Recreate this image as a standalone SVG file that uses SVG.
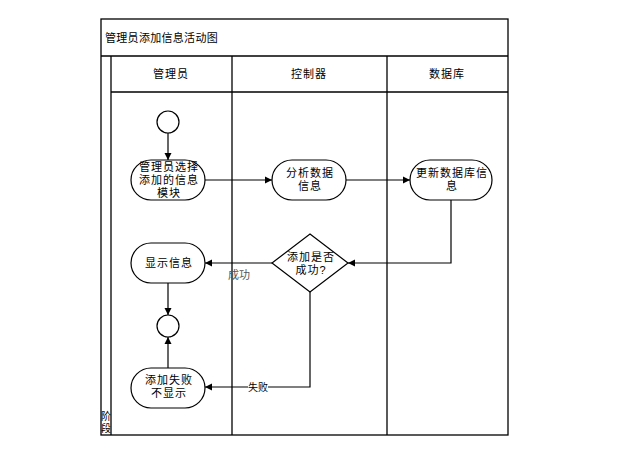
<svg xmlns="http://www.w3.org/2000/svg" width="635" height="453" viewBox="0 0 635 453">
<style>
.t{font-family:"Liberation Sans","Noto Sans CJK SC",sans-serif;font-size:11px;fill:#000;}
.c{text-anchor:middle;}
.s{letter-spacing:1px;}
.ln{stroke:#000;stroke-width:1.3;fill:none;}
.node{fill:#fff;stroke:#000;stroke-width:1.2;}
.conn{stroke:#000;stroke-width:1.2;fill:none;}
</style>
<defs>
<marker id="ah" markerWidth="8" markerHeight="8" refX="7" refY="4" orient="auto" markerUnits="userSpaceOnUse">
<path d="M0,0.5 L7,4 L0,7.5 Z" fill="#000"/>
</marker>
<clipPath id="cl"><rect x="101" y="92" width="10" height="343"/></clipPath>
</defs>
<rect width="635" height="453" fill="#fff"/>
<g id="frame">
<rect x="101" y="19" width="407" height="416" class="ln"/>
<line x1="101" y1="56" x2="508" y2="56" class="ln"/>
<line x1="111" y1="92" x2="508" y2="92" class="ln"/>
<line x1="111" y1="56" x2="111" y2="435" class="ln"/>
<line x1="232" y1="56" x2="232" y2="435" class="ln"/>
<line x1="387" y1="56" x2="387" y2="435" class="ln"/>
<text x="105" y="42" class="t" style="letter-spacing:0.3px">管理员添加信息活动图</text>
<text x="171" y="78" class="t c s">管理员</text>
<text x="309" y="78" class="t c s">控制器</text>
<text x="447" y="78" class="t c s">数据库</text>
<g clip-path="url(#cl)">
<text x="101" y="420" class="t" style="font-size:10px">阶</text>
<text x="101" y="432" class="t" style="font-size:10px">段</text>
</g>
</g>
<g id="connectors">
<line x1="168" y1="133" x2="168" y2="160" class="conn" marker-end="url(#ah)"/>
<line x1="205" y1="180" x2="272" y2="180" class="conn" marker-end="url(#ah)"/>
<line x1="346" y1="180" x2="410" y2="180" class="conn" marker-end="url(#ah)"/>
<polyline points="451,200 451,263 348,263" class="conn" marker-end="url(#ah)"/>
<line x1="272" y1="263" x2="205" y2="263" class="conn" marker-end="url(#ah)"/>
<line x1="168" y1="283" x2="168" y2="315" class="conn" marker-end="url(#ah)"/>
<line x1="168" y1="368" x2="168" y2="337" class="conn" marker-end="url(#ah)"/>
<polyline points="310,292 310,387 205,387" class="conn" marker-end="url(#ah)"/>
<text x="239" y="279" class="t c" style="fill:#555">成功</text>
<rect x="248" y="381" width="20" height="12" fill="#fff"/>
<text x="258" y="391" class="t c" style="font-size:10px">失败</text>
</g>
<g id="start">
<circle cx="168" cy="122" r="11" class="node"/>
</g>
<g id="select">
<rect x="131" y="160" width="74" height="40" rx="20" class="node"/>
<text x="169" y="171" class="t c s">管理员选择</text>
<text x="169" y="184" class="t c s">添加的信息</text>
<text x="169" y="197" class="t c s">模块</text>
</g>
<g id="analyze">
<rect x="272" y="160" width="74" height="40" rx="20" class="node"/>
<text x="310" y="177" class="t c s">分析数据</text>
<text x="310" y="190" class="t c s">信息</text>
</g>
<g id="update">
<rect x="410" y="160" width="82" height="40" rx="20" class="node"/>
<text x="452" y="177" class="t c s">更新数据库信</text>
<text x="452" y="190" class="t c s">息</text>
</g>
<g id="decision">
<polygon points="310,234 348,263 310,292 272,263" class="node"/>
<text x="311" y="261" class="t c s">添加是否</text>
<text x="311" y="274" class="t c s">成功?</text>
</g>
<g id="show">
<rect x="131" y="243" width="74" height="40" rx="20" class="node"/>
<text x="169" y="267" class="t c s">显示信息</text>
</g>
<g id="end">
<circle cx="168" cy="326" r="11" class="node"/>
</g>
<g id="fail">
<rect x="131" y="368" width="74" height="40" rx="20" class="node"/>
<text x="169" y="384" class="t c s">添加失败</text>
<text x="169" y="397" class="t c s">不显示</text>
</g>
</svg>
